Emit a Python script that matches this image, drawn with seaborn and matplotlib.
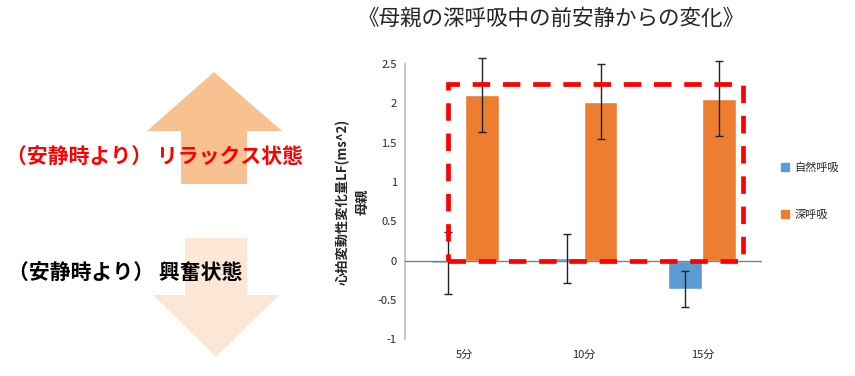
import numpy as np
import pandas as pd
import matplotlib
matplotlib.use('Agg')
import matplotlib.pyplot as plt
import seaborn as sns
from matplotlib.patches import Polygon, Rectangle, Patch

# Data
categories = ['5分', '10分', '15分']
series = ['自然呼吸', '深呼吸']
natural_mean = [-0.03, 0.03, -0.36]
natural_err = [0.39, 0.31, 0.23]
deep_mean = [2.10, 2.02, 2.06]
deep_err = [0.47, 0.48, 0.48]
colors = ['#5B9BD5', '#ED7D31']

df = pd.DataFrame({
    'time': categories * 2,
    'series': [series[0]] * 3 + [series[1]] * 3,
    'value': natural_mean + deep_mean,
    'err': natural_err + deep_err,
})

sns.set_theme(style='white')
plt.rcParams['font.family'] = ['Noto Sans CJK JP', 'DejaVu Sans']

fig = plt.figure(figsize=(8.55, 3.76), dpi=100)

# background layer in pixel coords for the arrows and side labels
bg = fig.add_axes([0, 0, 1, 1], zorder=0)
bg.set_xlim(0, 855)
bg.set_ylim(376, 0)
bg.axis('off')
up = [(147, 131), (214, 72), (282, 131), (247, 131), (247, 184), (181, 184), (181, 131)]
down = [(185, 238), (247, 238), (247, 295), (279, 295), (216, 357), (153, 295), (185, 295)]
bg.add_patch(Polygon(up, closed=True, color='#F8C191', lw=0))
bg.add_patch(Polygon(down, closed=True, color='#FCE7D7', lw=0))
bg.text(6, 156, '（安静時より） リラックス状態', color='#FF0000', fontsize=15,
        fontweight='bold', va='center', ha='left')
bg.text(8, 272, '（安静時より） 興奮状態', color='black', fontsize=15,
        fontweight='bold', va='center', ha='left')

ax = fig.add_axes([0.474, 0.098, 0.417, 0.732], zorder=1)
ax.patch.set_alpha(0)
sns.barplot(data=df, x='time', y='value', hue='series', order=categories,
            hue_order=series, palette=colors, width=0.571, errorbar=None,
            saturation=1, ax=ax, legend=False, zorder=2)

# error bars at bar centres
for bars, s in zip(ax.containers, series):
    sub = df[df['series'] == s].set_index('time').loc[categories]
    xs = [b.get_x() + b.get_width() / 2 for b in bars]
    eb = ax.errorbar(xs, sub['value'], yerr=sub['err'], fmt='none', ecolor='#222222',
                     elinewidth=1, capsize=3, capthick=1, zorder=4)
    for artist in eb.lines[1] + eb.lines[2]:
        artist.set_clip_on(False)

ax.axhline(0, color='#808080', lw=1, zorder=3)
ax.set_ylim(-1, 2.5)
ax.set_xlim(-0.5, 2.5)
ax.set_yticks(np.arange(-1, 2.51, 0.5))
ax.set_yticklabels(['-1', '-0.5', '0', '0.5', '1', '1.5', '2', '2.5'], fontsize=8)
ax.tick_params(axis='x', length=0, labelsize=8, pad=8)
ax.tick_params(axis='y', length=0, pad=6)
for side in ['top', 'right', 'bottom']:
    ax.spines[side].set_visible(False)
ax.spines['left'].set_color('#BFBFBF')
ax.set_xlabel('')
ax.set_ylabel('心拍変動性変化量LF(ms^2)\n母親', fontsize=9.5, fontweight='bold',
              labelpad=6, linespacing=1.5)

# red dashed highlight box
ax.add_patch(Rectangle((-0.14, 0), 2.48, 2.24, fill=False, edgecolor='#FF0000',
                       lw=3.4, ls=(0, (3.7, 2.7)), zorder=5, clip_on=False))

fig.text(0.645, 0.95, '《母親の深呼吸中の前安静からの変化》', fontsize=15.5,
         ha='center', va='center')

handles = [Patch(color=c, label=s) for c, s in zip(colors, series)]
fig.legend(handles=handles, loc='upper left', bbox_to_anchor=(0.902, 0.595),
           frameon=False, fontsize=8, handlelength=0.7, handleheight=0.7,
           handletextpad=0.5, labelspacing=3.3)

fig.savefig('out.png', dpi=100)
